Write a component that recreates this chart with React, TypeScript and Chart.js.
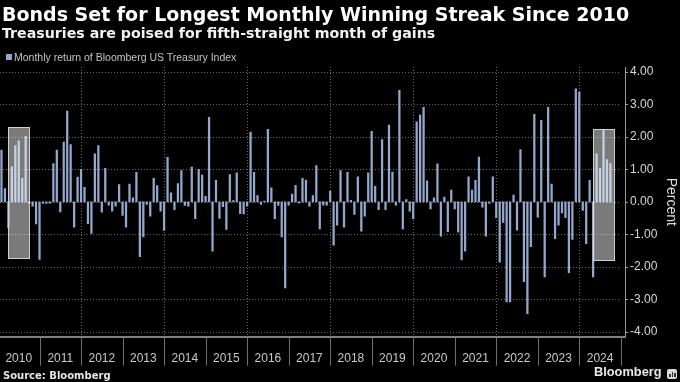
import React, { useEffect, useRef } from "react";
import { Chart, registerables } from "chart.js";

Chart.register(...registerables);

// ---- Data ----
const years = ["2010", "2011", "2012", "2013", "2014", "2015", "2016", "2017", "2018", "2019", "2020", "2021", "2022", "2023", "2024"];

const r2010 = [1.59, 0.41, -0.8, 1.08, 1.73, 1.88, 0.72, 2.02, -0.05, -0.13, -0.68, -1.77];
const r2011 = [-0.05, -0.05, -0.04, 1.18, 1.59, -0.31, 1.84, 2.79, 1.76, -0.78, 0.76, 1.0];
const r2012 = [0.45, -0.67, -0.97, 1.48, 1.73, -0.32, 1.03, -0.1, -0.29, -0.13, 0.53, -0.42];
const r2013 = [-0.78, 0.55, 0.12, 0.91, -1.69, -1.08, -0.08, -0.44, 0.72, 0.5, -0.29, -0.88];
const r2014 = [1.37, 0.28, -0.24, 0.56, 0.96, -0.11, -0.13, 1.07, -0.52, 1.0, 0.82, 0.17];
const r2015 = [2.6, -1.52, 0.66, -0.51, -0.15, -0.85, 0.84, 0.04, 0.89, -0.36, -0.37, -0.13];
const r2016 = [2.15, 0.91, 0.19, -0.08, 0.02, 2.23, 0.43, -0.52, -0.11, -1.08, -2.65, -0.1];
const r2017 = [0.24, 0.51, -0.03, 0.72, 0.67, -0.13, 0.19, 1.12, -0.83, -0.1, -0.1, 0.33];
const r2018 = [-1.33, -0.72, 0.96, -0.78, 0.91, 0.05, -0.39, 0.77, -0.9, -0.44, 0.89, 2.17];
const r2019 = [0.48, -0.24, 1.92, -0.24, 2.36, 0.92, -0.1, 3.43, -0.83, 0.07, -0.29, -0.52];
const r2020 = [2.46, 2.67, 2.91, 0.65, -0.22, 0.12, 1.17, -1.06, 0.15, -0.92, 0.36, -0.22];
const r2021 = [-0.93, -1.79, -1.52, 0.77, 0.36, 0.66, 1.38, -0.16, -1.06, -0.05, 0.77, -0.49];
const r2022 = [-1.86, -0.63, -3.08, -3.08, 0.21, -0.87, 1.61, -2.46, -3.44, -1.38, 2.69, -0.47];
const r2023 = [2.51, -2.31, 2.91, 0.55, -1.13, -0.72, -0.34, -0.49, -2.18, -1.16, 3.48, 3.38];
const r2024 = [-0.26, -1.29, 0.66, -2.31, 1.48, 1.03, 2.2, 1.3, 1.18];

const monthlyReturns = [
  ...r2010, ...r2011, ...r2012, ...r2013, ...r2014, ...r2015, ...r2016, ...r2017,
  ...r2018, ...r2019, ...r2020, ...r2021, ...r2022, ...r2023, ...r2024,
];

const yTickValues = [4, 3, 2, 1, 0, -1, -2, -3, -4];

// highlighted winning streaks, in months since Jan 2010 and percent
const streakFrom = [2.9, 172.05];
const streakTo = [8.9, 178.0];
const streakTop = [2.29, 2.23];
const streakBottom = [-1.74, -1.8];

const seriesLabel = "Monthly return of Bloomberg US Treasury Index";

const BAR_COLOR = "#93a8cc";
const X_MIN = 0.578;
const X_MAX = 181.21;

const decorPlugin = {
  id: "decor",
  beforeDatasetsDraw(chart: any) {
    const { ctx, chartArea: a, scales } = chart;
    const x = scales.x;
    const y = scales.y;
    ctx.save();
    ctx.strokeStyle = "rgba(150,150,150,0.7)";
    ctx.lineWidth = 1;
    ctx.setLineDash([1, 2]);
    const xEnd = x.getPixelForValue(years.length * 12);
    for (const v of yTickValues) {
      const py = Math.round(y.getPixelForValue(v)) + 0.5;
      ctx.beginPath();
      ctx.moveTo(a.left, py);
      ctx.lineTo(xEnd, py);
      ctx.stroke();
    }
    for (let k = 2; k < years.length; k += 2) {
      const px = Math.round(x.getPixelForValue(12 * k)) + 0.5;
      ctx.beginPath();
      ctx.moveTo(px, a.top);
      ctx.lineTo(px, a.bottom);
      ctx.stroke();
    }
    ctx.restore();
  },
  afterDatasetsDraw(chart: any) {
    const { ctx, scales } = chart;
    const x = scales.x;
    const y = scales.y;
    ctx.save();
    for (let i = 0; i < streakFrom.length; i++) {
      const x1 = Math.round(x.getPixelForValue(streakFrom[i]));
      const x2 = Math.round(x.getPixelForValue(streakTo[i]));
      const y1 = Math.round(y.getPixelForValue(streakTop[i]));
      const y2 = Math.round(y.getPixelForValue(streakBottom[i]));
      ctx.fillStyle = "rgba(255,255,255,0.48)";
      ctx.fillRect(x1, y1, x2 - x1, y2 - y1);
      ctx.strokeStyle = "rgba(215,215,215,0.95)";
      ctx.lineWidth = 1;
      ctx.strokeRect(x1 + 0.5, y1 + 0.5, x2 - x1, y2 - y1);
    }
    ctx.restore();
  },
  afterDraw(chart: any) {
    const { ctx, chartArea: a, scales } = chart;
    const x = scales.x;
    const y = scales.y;
    ctx.save();
    ctx.strokeStyle = "#6e6e6e";
    ctx.lineWidth = 1;
    for (let k = 1; k <= years.length; k++) {
      const px = Math.round(x.getPixelForValue(12 * k)) + 0.5;
      ctx.beginPath();
      ctx.moveTo(px, a.bottom + 1);
      ctx.lineTo(px, a.bottom + 29);
      ctx.stroke();
    }
    ctx.strokeStyle = "#9a9a9a";
    for (const v of yTickValues) {
      const py = Math.round(y.getPixelForValue(v)) + 0.5;
      ctx.beginPath();
      ctx.moveTo(a.right, py);
      ctx.lineTo(a.right + 3, py);
      ctx.stroke();
    }
    ctx.restore();
  },
};

function BarChart() {
  const ref = useRef<HTMLCanvasElement | null>(null);
  useEffect(() => {
    const canvas = ref.current;
    if (!canvas) return;
    const points = monthlyReturns.map((v, i) => ({ x: i + 1, y: v }));
    const chart = new Chart(canvas, {
      type: "bar",
      data: {
        datasets: [
          {
            label: seriesLabel,
            data: points,
            backgroundColor: BAR_COLOR,
            borderWidth: 0,
            barThickness: 1.6,
          },
        ],
      },
      options: {
        responsive: false,
        maintainAspectRatio: false,
        animation: false,
        devicePixelRatio: 1,
        layout: { padding: { top: 67, left: 0, right: 0, bottom: 0 } },
        plugins: {
          legend: { display: false },
          tooltip: { enabled: false },
          title: { display: false },
        },
        scales: {
          x: {
            type: "linear",
            min: X_MIN,
            max: X_MAX,
            offset: false,
            grid: { display: false, drawTicks: false },
            border: { display: true, color: "#808080", width: 2 },
            afterBuildTicks: (scale: any) => {
              scale.ticks = years.map((_, k) => ({ value: 12 * k + 6 }));
            },
            afterFit: (scale: any) => {
              scale.height = 45.3;
              scale.paddingLeft = 0;
              scale.paddingRight = 0;
            },
            ticks: {
              autoSkip: false,
              maxRotation: 0,
              minRotation: 0,
              padding: 15,
              color: "#c8c8c8",
              font: { family: "'Liberation Sans', Arial, sans-serif", size: 12 },
              callback: (_v: any, index: number) => years[index],
            },
          },
          y: {
            type: "linear",
            position: "right",
            min: -4.15,
            max: 4.15,
            grid: { display: false, drawTicks: false },
            border: { display: true, color: "#9a9a9a", width: 1 },
            afterBuildTicks: (scale: any) => {
              scale.ticks = yTickValues.map((v) => ({ value: v }));
            },
            afterFit: (scale: any) => {
              scale.width = 55;
            },
            ticks: {
              padding: 5,
              color: "#d6d6d6",
              font: { family: "'Liberation Sans', Arial, sans-serif", size: 12 },
              callback: (v: any) => Number(v).toFixed(2),
            },
            title: {
              display: true,
              text: "Percent",
              color: "#dcdcdc",
              padding: { top: 1, bottom: 0 },
              font: { family: "'Liberation Sans', Arial, sans-serif", size: 14 },
            },
          },
        },
      },
      plugins: [decorPlugin],
    } as any);
    return () => chart.destroy();
  }, []);
  return <canvas ref={ref} width={680} height={382} style={{ position: "absolute", left: 0, top: 0, display: "block" }} />;
}

export default function App() {
  useEffect(() => {
    document.body.style.margin = "0";
    document.body.style.background = "#000";
  }, []);
  const abs: React.CSSProperties = { position: "absolute", whiteSpace: "nowrap", lineHeight: 1, margin: 0 };
  return (
    <div style={{ position: "absolute", left: 0, top: 0, width: 680, height: 382, background: "#000", overflow: "hidden" }}>
      <BarChart />
      <div style={{ ...abs, left: 2, top: 5, fontFamily: "'DejaVu Sans', sans-serif", fontWeight: 700, fontSize: 19, color: "#ffffff" }}>
        Bonds Set for Longest Monthly Winning Streak Since 2010
      </div>
      <div style={{ ...abs, left: 2, top: 26.4, fontFamily: "'DejaVu Sans', sans-serif", fontWeight: 700, fontSize: 14.2, color: "#f2f2f2" }}>
        Treasuries are poised for fifth-straight month of gains
      </div>
      <div style={{ ...abs, left: 6, top: 54, width: 6, height: 6, background: BAR_COLOR }} />
      <div style={{ ...abs, left: 14, top: 51.9, fontFamily: "'Liberation Sans', Arial, sans-serif", fontSize: 10.5, color: "#c4c4c4" }}>
        {seriesLabel}
      </div>
      <div style={{ ...abs, left: 3, top: 370.5, fontFamily: "'DejaVu Sans', sans-serif", fontWeight: 700, fontSize: 10, color: "#e6e6e6" }}>
        Source: Bloomberg
      </div>
      <div style={{ ...abs, left: 594, top: 366.4, fontFamily: "'Liberation Sans', Arial, sans-serif", fontWeight: 700, fontSize: 12.8, color: "#e8e8e8" }}>
        Bloomberg
      </div>
      <div style={{ position: "absolute", left: 667, top: 368.5, width: 10, height: 10, background: "#d8d8d8", borderRadius: 2 }}>
        <div style={{ position: "absolute", left: 2, top: 5, width: 1.5, height: 3, background: "#333" }} />
        <div style={{ position: "absolute", left: 4.5, top: 3, width: 1.5, height: 5, background: "#333" }} />
        <div style={{ position: "absolute", left: 7, top: 4, width: 1.5, height: 4, background: "#333" }} />
      </div>
    </div>
  );
}
